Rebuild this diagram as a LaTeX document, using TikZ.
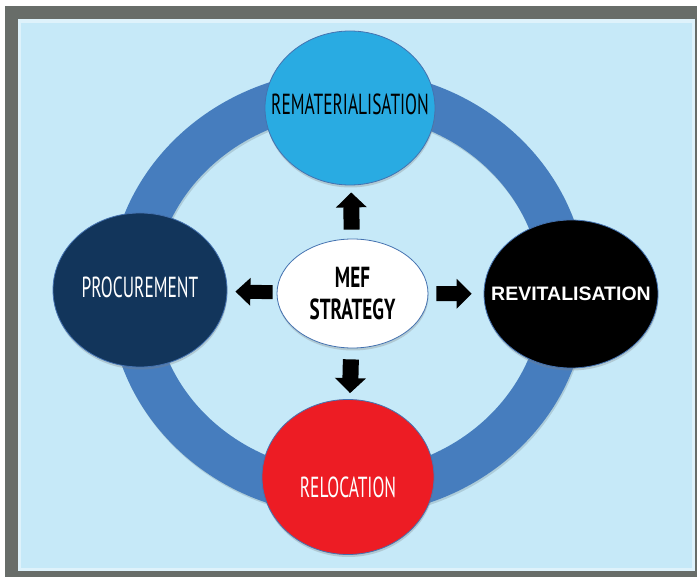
\documentclass[tikz,border=0pt]{standalone}
\usepackage{fontspec}
\usetikzlibrary{shapes.geometric,arrows.meta,shadows}
\newfontfamily\condfont[FakeStretch=0.6, BoldFeatures={FakeStretch=0.66}]{PT Sans}
\newfontfamily\armfont{Liberation Sans}
\definecolor{framegray}{RGB}{104,109,105}
\definecolor{panelblue}{RGB}{198,233,248}
\definecolor{panelline}{RGB}{222,242,251}
\definecolor{ringblue}{RGB}{70,125,190}
\definecolor{rematblue}{RGB}{41,171,226}
\definecolor{procblue}{RGB}{18,53,91}
\definecolor{relocred}{RGB}{237,28,36}
\definecolor{edgeblue}{RGB}{68,114,176}
\newcommand{\blobtext}[2]{\makebox[0pt]{\raisebox{#1}[0pt][0pt]{#2}}}

\begin{document}
\begin{tikzpicture}[x=1pt,y=-1pt,
  blob/.style={ellipse, draw=edgeblue, line width=0.8pt, inner sep=0pt,
    drop shadow={opacity=0.3, shadow xshift=0.5pt, shadow yshift=-2.5pt}},
  cond/.style={font=\condfont\fontsize{29}{32}\selectfont},
  blockarr/.style={line width=16pt, -{Triangle[width=30pt,length=15pt]}}]
\useasboundingbox (0,0) rectangle (697,577);
\fill[white] (0,0) rectangle (697,577);
\fill[framegray] (5,6) rectangle (697,577);
\fill[panelline] (18,19) rectangle (695,571);
\fill[panelblue] (21,23) rectangle (692,568);

\fill[black, opacity=0.12, even odd rule] (349,295) ellipse [x radius=239, y radius=223]
  (349,295) ellipse [x radius=194, y radius=179];
\fill[ringblue, even odd rule] (348,293) ellipse [x radius=239, y radius=223]
  (348,293) ellipse [x radius=194, y radius=179];

\node[blob, fill=rematblue, minimum width=170pt, minimum height=154pt, cond] (remat) at (350,108)
  {\blobtext{-7pt}{REMATERIALISATION}};
\node[blob, fill=procblue, minimum width=174pt, minimum height=154pt, cond, text=white] (proc) at (140,290)
  {\blobtext{-8pt}{PROCUREMENT}};
\node[blob, fill=black, minimum width=174pt, minimum height=148pt, text=white,
  font=\armfont\bfseries\fontsize{19.5}{24}\selectfont] (revit) at (571,294)
  {\blobtext{-7pt}{REVITALISATION}};
\node[blob, fill=relocred, minimum width=172pt, minimum height=155pt, cond, text=white] (reloc) at (348,477)
  {\blobtext{-21pt}{RELOCATION}};
\node[blob, fill=white, minimum width=151pt, minimum height=109pt, cond] (mef) at (352.5,293.5)
  {\blobtext{-26.5pt}{\bfseries\begin{tabular}[b]{@{}c@{}}MEF\\STRATEGY\end{tabular}}};

\draw[blockarr, shorten <=9pt, shorten >=7pt] (mef) -- (remat);
\draw[blockarr, shorten <=11pt, shorten >=6pt] (mef) -- (reloc);
\draw[blockarr, line width=14pt, -{Triangle[width=27pt,length=15pt]}, shorten <=4pt, shorten >=8pt] (mef) -- (proc);
\draw[blockarr, line width=15pt, -{Triangle[width=29pt,length=15pt]}, shorten <=8pt, shorten >=12pt] (mef) -- (revit);
\end{tikzpicture}
\end{document}
